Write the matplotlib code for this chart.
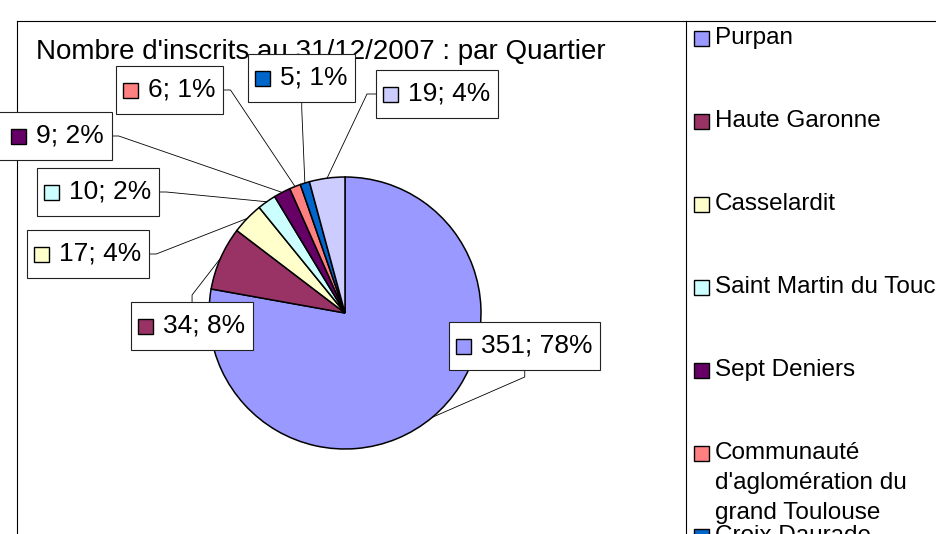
import matplotlib
matplotlib.use('Agg')
import matplotlib.pyplot as plt
from matplotlib.patches import Rectangle
import numpy as np

plt.rcParams['font.family'] = ['Liberation Sans', 'DejaVu Sans']

W, H = 937, 534

titre = "Nombre d'inscrits au 31/12/2007 : par Quartier"
quartiers = ['Purpan', 'Haute Garonne', 'Casselardit', 'Saint Martin du Touch',
             'Sept Deniers', "Communauté\nd'aglomération du\ngrand Toulouse",
             'Croix Daurade', 'Autres']
inscrits = [351, 34, 17, 10, 9, 6, 5, 19]
couleurs = ['#9999FF', '#993366', '#FFFFCC', '#CCFFFF',
            '#660066', '#FF8080', '#0066CC', '#CCCCFF']

# label boxes: left edge, vertical centre, side the leader line leaves from
label_pos = [(449, 346, 'bottom'), (131, 326, 'top'), (27, 254, 'right'),
             (37, 192, 'right'), (4, 136, 'right'), (116, 90, 'right'),
             (248, 78, 'bottom'), (376, 94, 'left')]

fig = plt.figure(figsize=(W / 100, H / 100), dpi=100)
ax = fig.add_axes([0, 0, 1, 1])

# y axis goes down like the picture, so the pie runs clockwise from the top
wedges, _ = ax.pie(inscrits, colors=couleurs, startangle=-90, counterclock=True,
                   center=(345, 313), radius=136, frame=True,
                   wedgeprops=dict(edgecolor='black', linewidth=1.1))
ax.set_xlim(0, W)
ax.set_ylim(H, 0)
ax.set_aspect('auto')
ax.axis('off')

# chart frame and legend separator
ax.plot([17.5, W], [20.5, 20.5], color='black', lw=0.8, zorder=0)
ax.plot([17.5, 17.5], [20.5, H], color='black', lw=0.8, zorder=0)
ax.plot([686, 686], [20.5, H], color='black', lw=0.8, zorder=0)

ax.text(36, 52, titre, fontsize=20, ha='left', va='center', zorder=1)

total = sum(inscrits)
renderer = fig.canvas.get_renderer()
for w, v, c, (left, cy, side) in zip(wedges, inscrits, couleurs, label_pos):
    txt = "%d; %.0f%%" % (v, round(v * 100.0 / total))
    t = ax.text(left + 32, cy, txt, fontsize=19, ha='left', va='center', zorder=6)
    bw = t.get_window_extent(renderer).width + 32 + 8
    # the box that touches the left border runs off the picture
    x0 = left if left > 10 else -6
    ax.add_patch(Rectangle((x0, cy - 24), bw + left - x0, 48, facecolor='white',
                           edgecolor='#222222', lw=0.8, zorder=5))
    ax.add_patch(Rectangle((left + 7, cy - 7.5), 15, 15, facecolor=c,
                           edgecolor='black', lw=1, zorder=6))

    ang = np.deg2rad((w.theta1 + w.theta2) / 2)
    px = w.center[0] + w.r * np.cos(ang)
    py = w.center[1] + w.r * np.sin(ang)
    if side == 'right':
        ax_, ay_, ex, ey = left + bw, cy, left + bw + 7, cy
    elif side == 'left':
        ax_, ay_, ex, ey = left, cy, left - 9, cy
    elif side == 'bottom':
        ax_, ay_, ex, ey = left + bw / 2, cy + 24, left + bw / 2, cy + 31
    else:
        ax_, ay_, ex, ey = left + bw / 2, cy - 24, left + bw / 2, cy - 31
    ax.plot([ax_, ex, px], [ay_, ey, py], color='black', lw=0.6, zorder=4)

# legend, cut by the bottom of the picture like the original
for i, (nom, c) in enumerate(zip(quartiers, couleurs)):
    y = 38 + 83 * i
    ax.add_patch(Rectangle((694, y - 7.5), 15, 15, facecolor=c,
                           edgecolor='black', lw=1, zorder=3))
    for k, ligne in enumerate(nom.split('\n')):
        ax.text(715, y + 30 * k, ligne, fontsize=17.5, ha='left', va='center', zorder=3)

fig.savefig('out.png', dpi=100)
